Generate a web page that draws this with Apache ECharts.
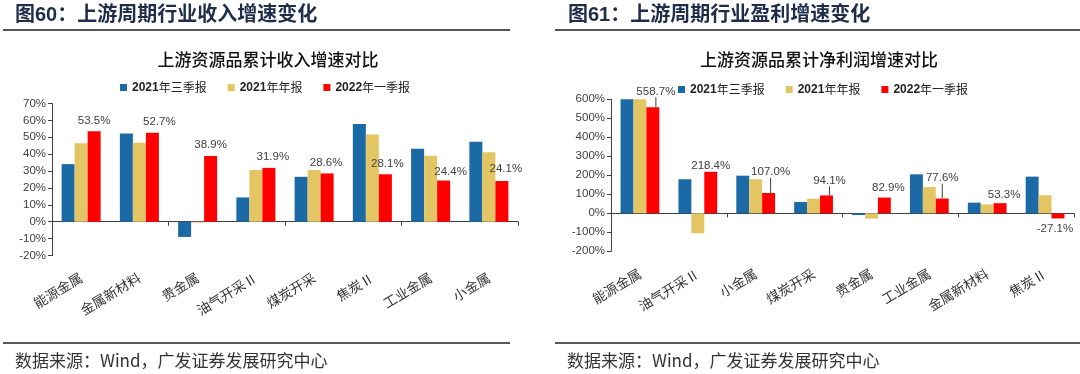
<!DOCTYPE html>
<html><head><meta charset="utf-8">
<script src="https://cdn.jsdelivr.net/npm/echarts@6/dist/echarts.min.js"></script>
<style>html,body{margin:0;padding:0;background:#fff}#c{width:1080px;height:374px}</style>
</head><body><div id="c"></div>
<script>
// ---- data ----
const seriesNames = ['2021年三季报', '2021年年报', '2022年一季报'];

const revCategories = ['能源金属', '金属新材料', '贵金属', '油气开采Ⅱ', '煤炭开采', '焦炭Ⅱ', '工业金属', '小金属'];
const revQ3_2021 = [34.1, 52.3, -9.0, 14.4, 26.6, 57.8, 43.2, 47.3];
const revFY_2021 = [46.4, 46.7, -0.5, 30.6, 30.6, 51.7, 39.1, 41.2];
const revQ1_2022 = [53.5, 52.7, 38.9, 31.9, 28.6, 28.1, 24.4, 24.1];
const revTickLabels = ['-20%', '-10%', '0%', '10%', '20%', '30%', '40%', '50%', '60%', '70%'];

const profCategories = ['能源金属', '油气开采Ⅱ', '小金属', '煤炭开采', '贵金属', '工业金属', '金属新材料', '焦炭Ⅱ'];
const profQ3_2021 = [600, 179, 198, 59.5, -9, 205, 56, 193];
const profFY_2021 = [600, -105, 179, 77, -28, 138, 47, 95];
const profQ1_2022 = [558.7, 218.4, 107.0, 94.1, 82.9, 77.6, 53.3, -27.1];
const profTickLabels = ['-200%', '-100%', '0%', '100%', '200%', '300%', '400%', '500%', '600%'];

// ---- style ----
const colors = ['#1b69a5', '#e3c564', '#ff0000'];
const axisColor = '#404040';
const latin = '"Liberation Sans", Arial, "Noto Sans CJK SC", sans-serif';
const cjk = '"Noto Sans CJK SC", "Liberation Sans", sans-serif';
const revLabelShift = [[0, 0], [7, 0], [0, 0], [4, 0], [-1, 0], [2, 0], [7, 2], [4, -1]];
const profLabelShift = [[3, -5], [0, 5], [2, -10], [3, -4], [4, 1], [0, -10], [4, 2], [-3, 0]];
const profLeader = [0, 2, 3, 5];

function tickRange(labels) {
  const nums = labels.map(s => parseFloat(s));
  return {min: nums[0], max: nums[nums.length - 1], interval: nums[1] - nums[0]};
}
const revR = tickRange(revTickLabels);
const profR = tickRange(profTickLabels);

function valueAxis(grid, r) {
  return {
    type: 'value', gridIndex: grid, min: r.min, max: r.max, interval: r.interval,
    axisLine: {show: true, lineStyle: {color: axisColor, width: 1}},
    axisTick: {show: true, length: 4, lineStyle: {color: axisColor}},
    splitLine: {show: false},
    axisLabel: {formatter: v => v + '%', color: axisColor, fontSize: 11.5, fontFamily: latin, margin: 6}
  };
}
function lineAxis(grid, cats) {
  return {
    type: 'category', gridIndex: grid, data: cats, position: 'bottom',
    axisLine: {show: true, onZero: true, lineStyle: {color: axisColor, width: 1}},
    axisTick: {show: true, length: 4, lineStyle: {color: axisColor}},
    axisLabel: {show: false}
  };
}
function labelAxis(grid, cats) {
  return {
    type: 'category', gridIndex: grid, data: cats, position: 'bottom',
    axisLine: {show: false, onZero: false}, axisTick: {show: false},
    axisLabel: {show: true, rotate: 31, margin: 21, interval: 0, color: '#333', fontSize: 13.5, fontFamily: cjk}
  };
}
const labelStyle = {color: axisColor, fontSize: 11.5, fontFamily: latin};

function barSeries(name, data, xi, yi, ci) {
  return {
    name, type: 'bar', xAxisIndex: xi, yAxisIndex: yi, data,
    barGap: '0%', barCategoryGap: '33%',
    itemStyle: {color: colors[ci]},
    emphasis: {disabled: true}
  };
}

const revRed = barSeries(seriesNames[2], revQ1_2022, 0, 0, 2);
revRed.label = Object.assign({show: true, position: 'top', formatter: p => p.value.toFixed(1) + '%'}, labelStyle);
revRed.labelLayout = p => ({dx: revLabelShift[p.dataIndex][0], dy: revLabelShift[p.dataIndex][1]});

const profRed = barSeries(seriesNames[2], profQ1_2022.map((v, i) => {
  const item = {value: v, labelLine: {show: profLeader.includes(i)}};
  if (v < 0) item.label = {position: 'bottom'};
  return item;
}), 2, 1, 2);
profRed.label = Object.assign({show: true, position: 'top', formatter: p => Number(p.value).toFixed(1) + '%'}, labelStyle);
profRed.labelLine = {show: false, lineStyle: {color: axisColor, width: 1}};
profRed.labelLayout = p => ({dx: profLabelShift[p.dataIndex][0], dy: profLabelShift[p.dataIndex][1]});

function legend(left, top) {
  return {
    data: seriesNames, left, top, icon: 'rect', itemWidth: 7, itemHeight: 7, itemGap: 21,
    selectedMode: false,
    formatter: n => '{a|' + n.slice(0, 4) + '}{b|' + n.slice(4) + '}',
    textStyle: {
      fontSize: 12, color: '#222',
      rich: {
        a: {fontSize: 12, fontWeight: 'bold', color: '#222', fontFamily: latin},
        b: {fontSize: 12, fontWeight: 'normal', color: '#222', fontFamily: cjk}
      }
    }
  };
}

function text(x, y, str, opt) {
  return {type: 'text', x, y, style: Object.assign({text: str, fill: '#222', textVerticalAlign: 'middle'}, opt)};
}
function hline(x1, x2, y, w, c) {
  return {type: 'line', shape: {x1, y1: y, x2, y2: y}, style: {stroke: c, lineWidth: w}};
}

const option = {
  animation: false,
  backgroundColor: '#fff',
  grid: [
    {left: 52, right: 562, top: 103.5, bottom: 118.5},
    {left: 611, right: 6, top: 99.3, bottom: 122.7}
  ],
  legend: [legend(115, 76.5), legend(673, 78.5)],
  xAxis: [lineAxis(0, revCategories), labelAxis(0, revCategories), lineAxis(1, profCategories), labelAxis(1, profCategories)],
  yAxis: [valueAxis(0, revR), valueAxis(1, profR)],
  series: [
    barSeries(seriesNames[0], revQ3_2021, 0, 0, 0),
    barSeries(seriesNames[1], revFY_2021, 0, 0, 1),
    revRed,
    barSeries(seriesNames[0], profQ3_2021, 2, 1, 0),
    barSeries(seriesNames[1], profFY_2021, 2, 1, 1),
    profRed
  ],
  graphic: [
    text(15, 15, '图60：上游周期行业收入增速变化', {font: 'bold 20px ' + latin, fill: '#1f2d4a'}),
    text(568, 15, '图61：上游周期行业盈利增速变化', {font: 'bold 20px ' + latin, fill: '#1f2d4a'}),
    hline(3, 510, 30, 2, '#555'),
    hline(555, 1080, 30, 2, '#555'),
    text(268, 59.5, '上游资源品累计收入增速对比', {font: '500 17px ' + cjk, textAlign: 'center', fill: '#111'}),
    text(819, 60, '上游资源品累计净利润增速对比', {font: '500 17px ' + cjk, textAlign: 'center', fill: '#111'}),
    hline(3, 510, 343, 1.5, '#222'),
    hline(555, 1080, 343, 1.5, '#222'),
    text(15, 361, '数据来源：Wind，广发证券发展研究中心', {font: '17px ' + cjk, fill: '#333'}),
    text(567, 361, '数据来源：Wind，广发证券发展研究中心', {font: '17px ' + cjk, fill: '#333'})
  ]
};
const chart = echarts.init(document.getElementById('c'), null, {renderer: 'canvas'});
chart.setOption(option);
</script>
</body></html>
